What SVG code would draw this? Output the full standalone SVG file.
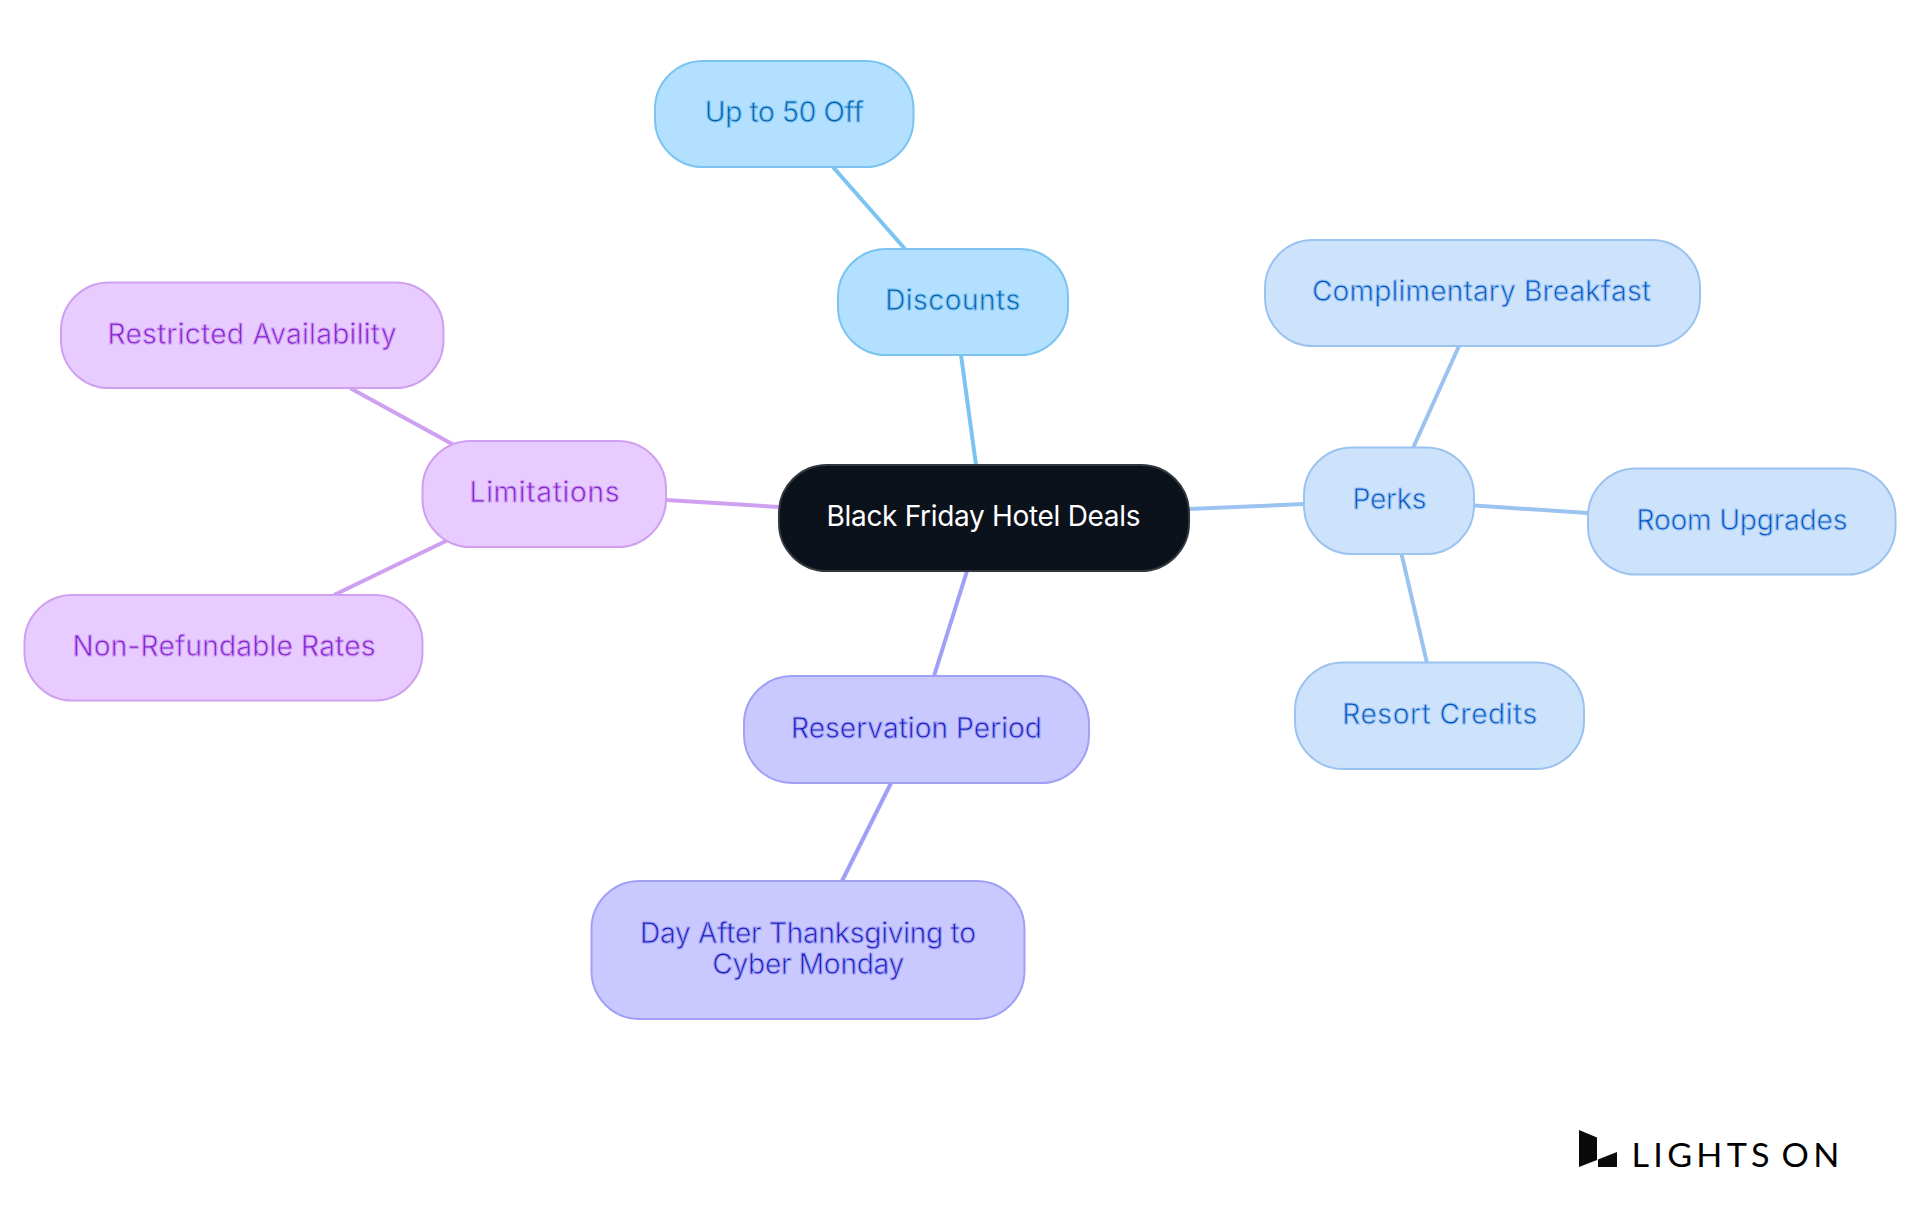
<svg xmlns="http://www.w3.org/2000/svg" width="1920" height="1215" viewBox="0 0 1920 1215">
<style>
text{font-family:"Inter","Noto Sans",sans-serif;font-size:28px;font-weight:400;text-anchor:middle}
.n{stroke-width:2}
.c line{stroke-width:4;fill:none}
.a rect{fill:#b3e0ff;stroke:#7bc3f0}.a text{fill:#0058a8}.a{stroke:#7bc3f0}
.b rect{fill:#cde3fc;stroke:#9ac3f0}.b text{fill:#004ec0}.b{stroke:#9ac3f0}
.d rect{fill:#c9c9ff;stroke:#a0a0f5}.d text{fill:#1616b8}.d{stroke:#a0a0f5}
.e rect{fill:#e8ccff;stroke:#cf9ff0}.e text{fill:#7f18d0}.e{stroke:#cf9ff0}
</style>
<rect width="1920" height="1215" fill="#fff"/>
<g id="connectors" class="c">
<line class="a" x1="961" y1="355" x2="976" y2="465"/>
<line class="a" x1="833" y1="167" x2="905" y2="249"/>
<line class="b" x1="1189" y1="509" x2="1304" y2="504"/>
<line class="b" x1="1413" y1="448" x2="1459" y2="346"/>
<line class="b" x1="1474" y1="505.500" x2="1588" y2="513"/>
<line class="b" x1="1401.500" y1="554" x2="1427" y2="663"/>
<line class="e" x1="666" y1="500" x2="779" y2="507"/>
<line class="e" x1="350" y1="388" x2="454" y2="445"/>
<line class="e" x1="448" y1="540" x2="334" y2="595"/>
<line class="d" x1="967" y1="571" x2="934" y2="676"/>
<line class="d" x1="891" y1="783" x2="842" y2="881"/>
</g>
<g id="root"><rect class="n" x="779" y="465" width="410" height="106" rx="48" fill="#0c121b" stroke="#33373d"/><text x="983.500" y="526" fill="#fff" textLength="314">Black Friday Hotel Deals</text></g>
<g id="discounts" class="a"><rect class="n" x="838" y="249" width="230" height="106" rx="48"/><text x="952.700" y="310" textLength="135">Discounts</text></g>
<g id="up50" class="a"><rect class="n" x="655" y="61" width="258.500" height="106" rx="48"/><text x="784.300" y="122" textLength="159">Up to 50 Off</text></g>
<g id="perks" class="b"><rect class="n" x="1304" y="447.500" width="170" height="106.500" rx="48"/><text x="1389.500" y="509" textLength="74">Perks</text></g>
<g id="breakfast" class="b"><rect class="n" x="1265" y="240" width="435" height="106" rx="48"/><text x="1481.500" y="301" textLength="339">Complimentary Breakfast</text></g>
<g id="upgrades" class="b"><rect class="n" x="1588" y="468.500" width="307.500" height="106" rx="48"/><text x="1742" y="530" textLength="211">Room Upgrades</text></g>
<g id="credits" class="b"><rect class="n" x="1295" y="662.500" width="289" height="106.500" rx="48"/><text x="1439.800" y="724" textLength="195">Resort Credits</text></g>
<g id="limitations" class="e"><rect class="n" x="422.500" y="441" width="243.500" height="106" rx="48"/><text x="544.600" y="502" textLength="150">Limitations</text></g>
<g id="restricted" class="e"><rect class="n" x="61" y="282.500" width="382.500" height="105.500" rx="48"/><text x="252" y="344" textLength="289">Restricted Availability</text></g>
<g id="nonrefundable" class="e"><rect class="n" x="24.500" y="595" width="398" height="105.500" rx="48"/><text x="224" y="656" textLength="303">Non-Refundable Rates</text></g>
<g id="reservation" class="d"><rect class="n" x="744" y="676" width="345" height="107" rx="48"/><text x="916.500" y="738" textLength="251">Reservation Period</text></g>
<g id="dayafter" class="d"><rect class="n" x="591.500" y="881" width="433" height="138" rx="48"/><text x="808" y="943" textLength="336">Day After Thanksgiving to</text><text x="808.300" y="974" textLength="192">Cyber Monday</text></g>
<g id="logo"><polygon points="1579,1130 1597,1137.500 1597,1160 1579,1167" fill="#0a0a0a"/><polygon points="1598,1159.500 1617,1152 1617,1167 1598,1167" fill="#0a0a0a"/><text x="1631.500" y="1166.500" textLength="212" lengthAdjust="spacingAndGlyphs" style="font-family:Lato,sans-serif;font-size:32px;font-weight:400;letter-spacing:4px;word-spacing:-5px;text-anchor:start;fill:#000">LIGHTS ON</text></g>
</svg>
